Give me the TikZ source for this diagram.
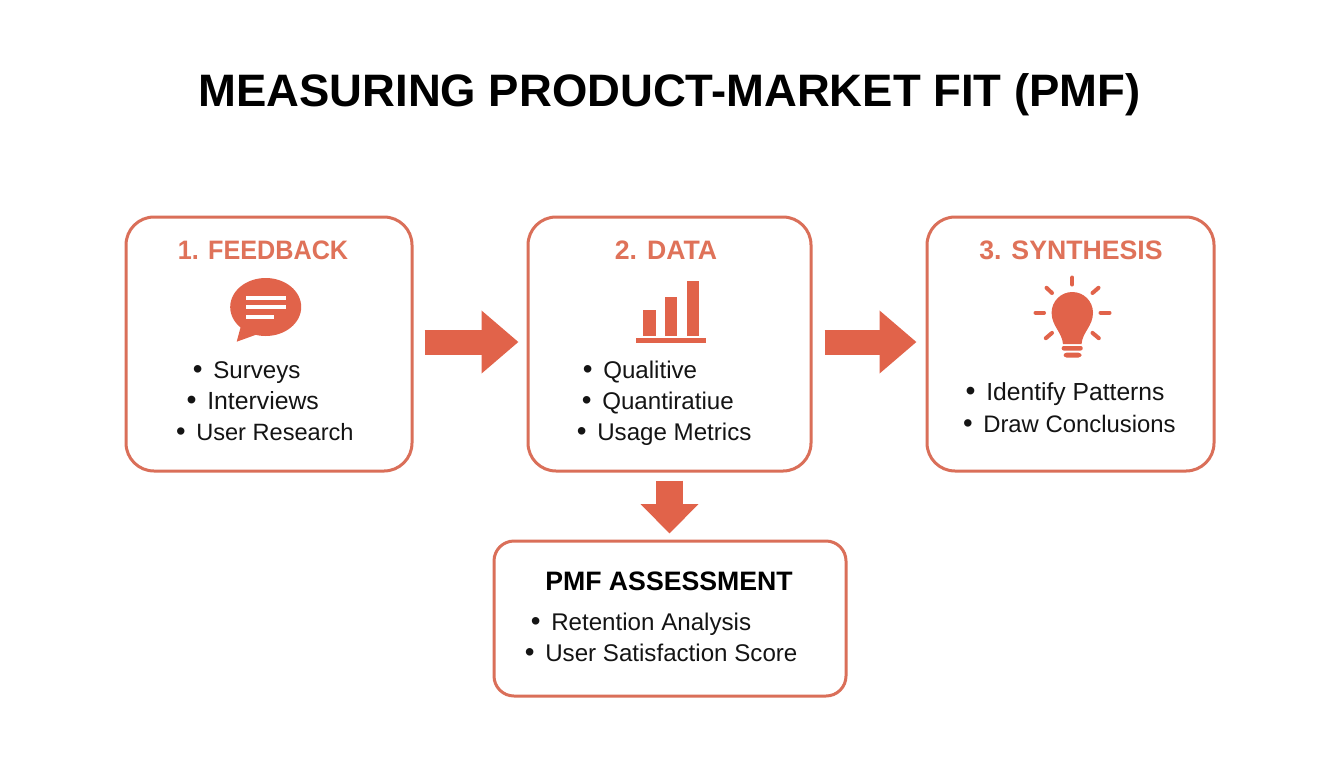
\documentclass[tikz,border=0pt]{standalone}
\usepackage{fontspec}
\setmainfont{Liberation Sans}
\usetikzlibrary{arrows.meta}
\definecolor{edge}{HTML}{DA6F59}
\definecolor{accent}{HTML}{E1634A}
\definecolor{headc}{HTML}{DF7259}
\newcommand\bl[1]{\llap{\raisebox{-0.25pt}{\scalebox{1.15}{\textbullet}}\hspace{#1pt}}}
\tikzset{
 x=0.75pt,y=-0.75pt,
 card/.style={draw=edge,line width=2.25pt,fill=white,rounded corners=21pt,minimum width=#1,inner sep=0pt},
 head/.style={font=\bfseries\fontsize{20}{24}\selectfont,text=headc,anchor=base,inner sep=0pt},
 item/.style={font=\fontsize{#1}{20}\selectfont,text=black!92,anchor=base west,inner sep=0pt},
 item/.default=18.1,
 bigarrow/.style={accent,line width=18.75pt,-{Triangle[length=27.75pt,width=45.5pt]}},
 downarrow/.style={accent,line width=20pt,-{Triangle[length=22pt,width=42pt]}},
 ray/.style={accent,line width=3pt,line cap=round},
}
\begin{document}
\begin{tikzpicture}
\useasboundingbox[fill=white] (0,0) rectangle (1344,768);
\node[font=\bfseries\fontsize{34.1}{40}\selectfont,anchor=base,inner sep=0pt] (title) at (669.5,106) {MEASURING PRODUCT-MARKET FIT (PMF)};

\node[card=214.5pt,minimum height=190.5pt] (box1) at (269,344) {};
\node[card=212.25pt,minimum height=190.5pt] (box2) at (669.5,344) {};
\node[card=215.25pt,minimum height=190.5pt] (box3) at (1070.5,344) {};
\node[card=264pt,minimum height=116.25pt,rounded corners=15pt] (box4) at (670,618.5) {};

\node[head] (h1) at (263,259) {\scalebox{0.945}[1]{1. FEEDBACK}};
\node[head] (h2) at (666,259) {2. DATA};
\node[head] (h3) at (1071,259) {3. SYNTHESIS};
\node[head,text=black] (h4) at (669,590) {PMF ASSESSMENT};

\node[item] (i11) at (213,378) {\bl{8}Surveys};
\node[item=18.6] (i12) at (207,409) {\bl{8}Interviews};
\node[item=17.7] (i13) at (196,440) {\bl{8}User Research};
\node[item] (i21) at (603,378) {\bl{8}Qualitive};
\node[item] (i22) at (602,409) {\bl{8}Quantiratiue};
\node[item] (i23) at (597,440) {\bl{8}Usage Metrics};
\node[item=18.5] (i31) at (986,400.5) {\bl{8}Identify Patterns};
\node[item=17.9] (i32) at (983,432) {\bl{8}Draw Conclusions};
\node[item] (i41) at (551,630) {\bl{8}Retention Analysis};
\node[item] (i42) at (545,661) {\bl{8}User Satisfaction Score};

% block arrows
\draw[bigarrow,shorten <=8.25pt,shorten >=6pt] ([yshift=1.5pt]box1.east) -- ([yshift=1.5pt]box2.west);
\draw[bigarrow,shorten <=9pt,shorten >=6.75pt] ([yshift=1.5pt]box2.east) -- ([yshift=1.5pt]box3.west);
\draw[downarrow,shorten <=6pt,shorten >=4.5pt] (box2.south) -- (box2.south |- box4.north);

% speech bubble
\fill[accent] (265.7,307) ellipse [x radius=35.5, y radius=29];
\fill[accent] (242,322) -- (236.7,341.7) -- (258,334) -- cycle;
\draw[white,line width=3pt] (246,297.7) -- (286,297.7) (246,307.3) -- (286,307.3) (246,317) -- (274,317);

% bar chart
\fill[accent] (643.3,310) rectangle (656,335.7);
\fill[accent] (665,296.7) rectangle (677.3,335.7);
\fill[accent] (686.7,281.3) rectangle (699,335.7);
\fill[accent] (636.3,338.3) rectangle (705.7,343.3);

% light bulb
\fill[accent] (1063,344) .. controls (1062,332) and (1051.6,326) .. (1051.6,312.7)
  arc[start angle=180,end angle=360,radius=20.7]
  .. controls (1093,326) and (1082.5,332) .. (1081.5,344) -- cycle;
\fill[accent,rounded corners=1.5pt] (1061.7,346) rectangle (1082.7,350.5);
\fill[accent,rounded corners=2.25pt] (1063.5,352.7) rectangle (1081.5,357.5);
\draw[ray] (1072.3,277.5) -- (1072.3,284.5);
\draw[ray] (1046.5,287.8) -- (1052,293);
\draw[ray] (1098.5,287.8) -- (1092.5,293);
\draw[ray] (1035.5,312.7) -- (1044,312.7);
\draw[ray] (1100.5,312.7) -- (1109.5,312.7);
\draw[ray] (1045.8,338.2) -- (1052,332.9);
\draw[ray] (1098.8,338.2) -- (1092.5,332.9);
\end{tikzpicture}
\end{document}
